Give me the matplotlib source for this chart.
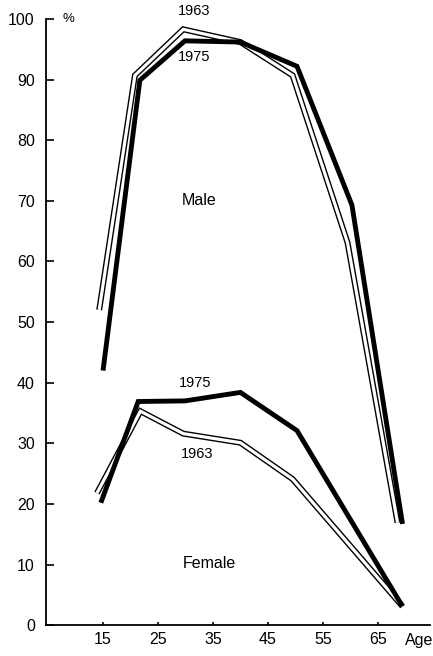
import matplotlib
matplotlib.use("Agg")
import matplotlib.pyplot as plt

plt.rcParams["font.family"] = ["Liberation Sans", "DejaVu Sans"]
plt.rcParams["font.size"] = 10

# labour force participation by age, per cent
age_m63 = [14.3, 20.8, 29.6, 40.0, 49.5, 59.5, 68.6]
male_1963 = [52.0, 90.7, 98.3, 96.2, 90.7, 63.1, 16.9]
age_m75 = [15.0, 21.7, 29.9, 40.0, 50.3, 60.3, 69.5]
male_1975 = [42.0, 89.9, 96.4, 96.2, 92.2, 69.3, 16.7]

age_f63 = [13.9, 21.8, 29.6, 40.0, 49.5, 69.5]
female_1963 = [21.8, 35.3, 31.6, 30.1, 24.1, 3.1]
age_f75 = [14.6, 21.4, 29.9, 40.0, 50.3, 69.5]
female_1975 = [20.2, 36.9, 37.0, 38.4, 32.1, 3.1]

xticks = [15, 25, 35, 45, 55, 65]
yticks = list(range(0, 101, 10))

fig = plt.figure(figsize=(4.33, 6.56), dpi=100)
ax = fig.add_axes([0.106, 0.047, 0.887, 0.924])


def hollow(x, y):
    # 1963: outlined (double) line
    ax.plot(x, y, color="black", lw=4.3, solid_joinstyle="miter", solid_capstyle="butt", zorder=2)
    ax.plot(x, y, color="white", lw=2.3, solid_joinstyle="miter", solid_capstyle="butt", zorder=2)


def solid(x, y):
    # 1975: heavy line
    ax.plot(x, y, color="black", lw=3.5, solid_joinstyle="miter", solid_capstyle="butt", zorder=3)


hollow(age_m63, male_1963)
hollow(age_f63, female_1963)
solid(age_m75, male_1975)
solid(age_f75, female_1975)

ax.set_xlim(4.6, 74.5)
ax.set_ylim(0, 100)
ax.set_xticks(xticks)
ax.set_yticks(yticks)
ax.tick_params(axis="y", direction="in", length=6, width=1.2, pad=8, labelsize=11.5)
ax.tick_params(axis="x", direction="in", length=2, width=1.2, pad=5, labelsize=11.5)
for s in ["top", "right"]:
    ax.spines[s].set_visible(False)
ax.spines["left"].set_linewidth(1.3)
ax.spines["bottom"].set_linewidth(1.3)

ax.text(72.6, -1.3, "Age", ha="center", va="top", fontsize=11.5, clip_on=False)
ax.text(8.7, 100, "%", ha="center", va="center", fontsize=9.5, clip_on=False)

ax.text(31.6, 101.3, "1963", ha="center", va="center", fontsize=10.5, clip_on=False)
ax.text(31.6, 93.8, "1975", ha="center", va="center", fontsize=10.5)
ax.text(32.5, 70.1, "Male", ha="center", va="center", fontsize=11.5)
ax.text(31.8, 40.0, "1975", ha="center", va="center", fontsize=10.5)
ax.text(32.1, 28.3, "1963", ha="center", va="center", fontsize=10.5)
ax.text(34.3, 10.1, "Female", ha="center", va="center", fontsize=11.5)

fig.savefig("out.png", dpi=100)
plt.close(fig)
